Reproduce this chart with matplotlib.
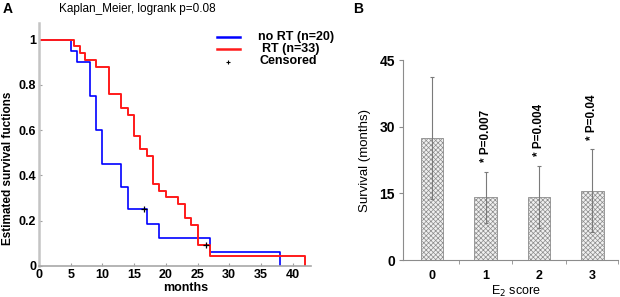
import matplotlib
matplotlib.use('Agg')
import matplotlib.pyplot as plt
import numpy as np

### data
# panel A: Kaplan-Meier steps (time in months, survival fraction)
t_nort = [0, 5, 6, 8, 9, 10, 13, 14, 17, 19, 27, 38]
s_nort = [1, 0.95, 0.9, 0.75, 0.6, 0.45, 0.35, 0.25, 0.1875, 0.125, 0.0625, 0]
t_rt = [0, 5.5, 6.5, 7.3, 9, 11, 13, 14, 15, 16, 17, 18, 19, 20, 22, 23, 24, 25, 27, 42]
s_rt = [1, 0.97, 0.94, 0.91, 0.879, 0.758, 0.697, 0.667, 0.576, 0.515, 0.485,
        0.364, 0.333, 0.303, 0.273, 0.212, 0.182, 0.091, 0.045, 0]
cens_t = [16.5, 26.4]
cens_s = [0.25, 0.091]
# panel B: survival by E2 score
scores = ['0', '1', '2', '3']
surv_mean = [27.4, 14.1, 14.1, 15.6]
surv_err = [13.7, 5.8, 7.0, 9.3]
p_labels = ['', '* P=0.007', '* P=0.004', '* P=0.04']

plt.rcParams['font.family'] = ['Liberation Sans', 'DejaVu Sans']
plt.rcParams['hatch.linewidth'] = 0.5

W, H = 620, 297
fig = plt.figure(figsize=(W / 100, H / 100), dpi=100)

def fx(px):
    return px / W

def fy(py):
    return 1 - py / H

### panel A
axA = fig.add_axes([fx(39), fy(266), fx(310.7 - 39), (266 - 23) / H])
axA.step(t_nort, s_nort, where='post', color='#0000ff', lw=1.2)
axA.step(t_rt, s_rt, where='post', color='#ff1a1a', lw=1.4)
axA.plot(cens_t, cens_s, '+', color='black', ms=4, mew=0.9)
axA.set_xlim(0, 42.85)
axA.set_ylim(0, 1.073)
axA.set_xticks(np.arange(0, 45, 5))
axA.set_yticks([0, 0.2, 0.4, 0.6, 0.8, 1])
axA.set_yticklabels(['0', '0.2', '0.4', '0.6', '0.8', '1'])
for s in ['top', 'right']:
    axA.spines[s].set_visible(False)
axA.spines['left'].set_color('#c4c4c4')
axA.spines['left'].set_linewidth(1.8)
axA.spines['bottom'].set_color('#a8a8a8')
axA.spines['bottom'].set_linewidth(1.2)
axA.tick_params(direction='in', length=2, color='#a0a0a0', labelsize=9, pad=2)
for lab in axA.get_xticklabels() + axA.get_yticklabels():
    lab.set_fontweight('bold')
axA.set_xlabel('months', fontsize=9, fontweight='bold', va='center')
axA.xaxis.set_label_coords((186 - 39) / 271.7, -(288 - 266) / 243)
axA.set_ylabel('Estimated survival fuctions', fontsize=8.5, fontweight='bold', va='center')
axA.yaxis.set_label_coords(-31 / 271.7, (266 - 168) / 243)

# legend drawn by hand
legA = [(36.7, '#0000ff', 'no RT (n=20)', 258), (49.3, '#ff1a1a', 'RT (n=33)', 262)]
for py, c, txt, tx in legA:
    fig.add_artist(plt.Line2D([fx(217), fx(240)], [fy(py), fy(py)], color=c, lw=1.8))
    fig.text(fx(tx), fy(py), txt, fontsize=9, fontweight='bold', va='center')
fig.add_artist(plt.Line2D([fx(228)], [fy(61.5)], marker='+', color='black', ms=3, mew=0.8))
fig.text(fx(260), fy(61.5), 'Censored', fontsize=9, fontweight='bold', va='center')

fig.text(fx(137.5), fy(9), 'Kaplan_Meier, logrank p=0.08', fontsize=8.5, ha='center', va='center')
fig.text(fx(8), fy(9), 'A', fontsize=10, fontweight='bold', ha='center', va='center')
fig.text(fx(358), fy(9), 'B', fontsize=10, fontweight='bold', ha='center', va='center')

### panel B
axB = fig.add_axes([fx(403.3), fy(260), fx(618 - 403.3), 200 / H])
x = np.arange(len(scores))
axB.bar(x, surv_mean, width=0.42, facecolor='#f0f0f0', edgecolor='#8c8c8c',
        hatch='xxxxxxx', linewidth=0.6, zorder=2)
axB.errorbar(x, surv_mean, yerr=surv_err, fmt='none', ecolor='#7a7a7a',
             elinewidth=0.8, capsize=1.5, capthick=0.8, zorder=3)
for i in range(len(scores)):
    if p_labels[i]:
        axB.text(x[i], surv_mean[i] + surv_err[i] + 2.2, p_labels[i], rotation=90,
                 ha='center', va='bottom', fontsize=8.5, fontweight='bold')
axB.set_xlim(-0.54, 3.48)
axB.set_ylim(0, 45)
axB.set_yticks([0, 15, 30, 45])
axB.set_xticks(x)
axB.set_xticklabels(scores)
axB.set_xticks([0.5, 1.5, 2.5, 3.48], minor=True)
for s in ['top', 'right']:
    axB.spines[s].set_visible(False)
for s in ['left', 'bottom']:
    axB.spines[s].set_color('#8c8c8c')
    axB.spines[s].set_linewidth(0.8)
axB.tick_params(axis='x', which='major', length=0, pad=7, labelsize=9)
axB.tick_params(axis='x', which='minor', direction='out', length=3, color='#8c8c8c')
axB.tick_params(axis='y', direction='out', length=3, color='#8c8c8c', labelsize=10, pad=3)
for lab in axB.get_xticklabels() + axB.get_yticklabels():
    lab.set_fontweight('bold')
axB.set_ylabel('Survival (months)', fontsize=9.5, labelpad=6)
axB.set_xlabel('E$_2$ score', fontsize=9, va='center')
axB.xaxis.set_label_coords((516 - 403.3) / 214.7, -(291 - 260) / 200)

plt.savefig('out.png', dpi=100)
